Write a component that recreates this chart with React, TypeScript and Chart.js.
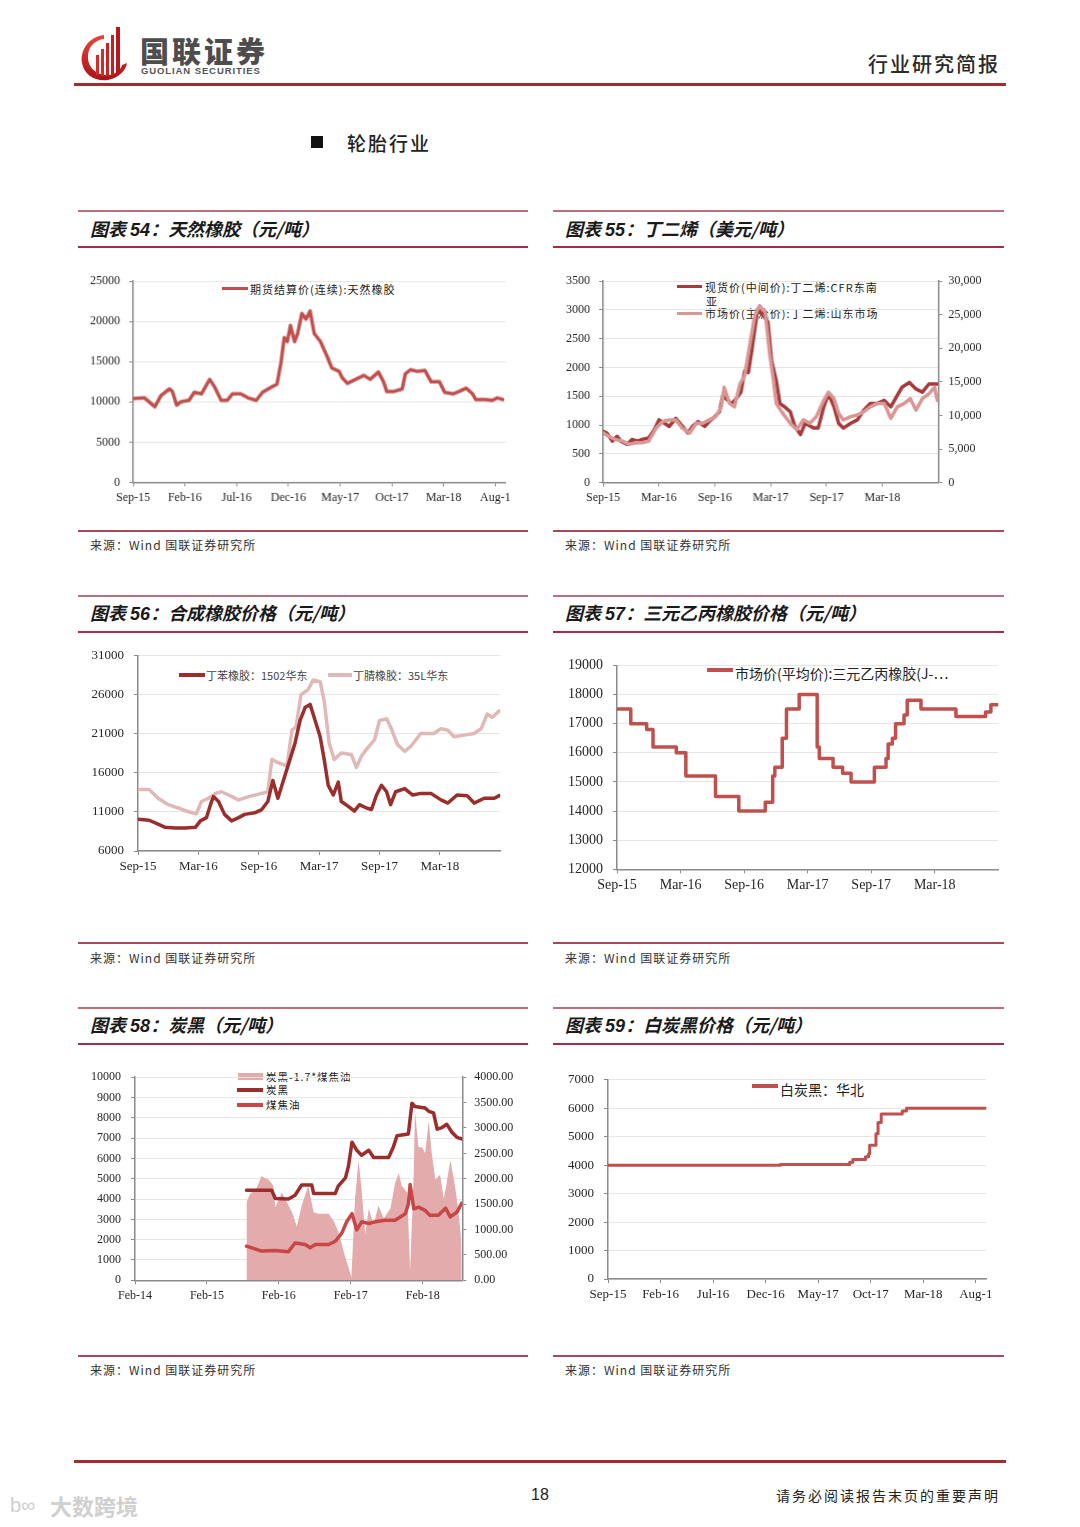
import React, { useEffect, useRef } from 'react';
import { Chart, registerables } from 'chart.js';
Chart.register(...registerables);

const SERIF = '"Liberation Serif", "Times New Roman", serif';
const CJK = '"Noto Sans CJK SC", "Noto Sans", sans-serif';
const ARIAL = '"Liberation Sans", Arial, sans-serif';

// ---------- 图表54 天然橡胶 ----------
const nrTickMonths = [0, 5, 10, 15, 20, 25, 30, 35];
const nrTickLabels = ['Sep-15', 'Feb-16', 'Jul-16', 'Dec-16', 'May-17', 'Oct-17', 'Mar-18', 'Aug-1'];
const nrMonths = [0, 1.1, 2.1, 2.7, 3.5, 3.8, 4.2, 4.6, 5.4, 5.9, 6.6, 7.4, 7.9, 8.5, 9.1, 9.6, 10.4, 11.1, 11.9, 12.5, 13.3, 13.9, 14.3, 14.6, 14.9, 15.2, 15.6, 15.9, 16.3, 16.7, 17.1, 17.5, 18.1, 18.8, 19.2, 19.9, 20.2, 20.7, 21.5, 22.3, 22.9, 23.7, 24.2, 24.5, 25.2, 26.0, 26.3, 26.8, 27.4, 28.2, 28.8, 29.6, 30.1, 30.9, 31.5, 32.2, 32.8, 33.1, 34.0, 34.7, 35.2, 35.7];
const nrValues = [10400, 10500, 9400, 10800, 11600, 11300, 9600, 10000, 10200, 11200, 11000, 12800, 11800, 10200, 10200, 11000, 11000, 10500, 10200, 11200, 11800, 12200, 15000, 18000, 17500, 19500, 17500, 18500, 21000, 20300, 21300, 18500, 17500, 15500, 14200, 13800, 13000, 12300, 12800, 13300, 12800, 13700, 12500, 11300, 11300, 11600, 13500, 14000, 13800, 13900, 12500, 12500, 11200, 11000, 11300, 11700, 11000, 10300, 10300, 10200, 10500, 10300];

// ---------- 图表55 丁二烯 ----------
const bdTickMonths = [0, 6, 12, 18, 24, 30];
const bdTickLabels = ['Sep-15', 'Mar-16', 'Sep-16', 'Mar-17', 'Sep-17', 'Mar-18'];
const bdCfrMonths = [0, 0.4, 1.0, 1.5, 1.9, 2.6, 3.1, 3.7, 4.2, 4.9, 5.5, 6.0, 6.6, 7.1, 7.8, 8.4, 9.1, 9.6, 10.2, 10.9, 11.4, 12.0, 12.5, 12.9, 13.2, 13.8, 14.3, 14.8, 15.2, 15.6, 15.9, 16.3, 16.6, 17.2, 17.7, 18.1, 18.6, 19.0, 19.5, 20.1, 20.6, 21.2, 21.7, 22.6, 23.1, 23.7, 24.2, 24.8, 25.3, 25.8, 26.6, 27.3, 28.0, 28.7, 29.4, 30.2, 30.9, 31.4, 32.1, 32.9, 33.6, 34.3, 35.0, 35.9];
const bdCfrValues = [890, 862, 720, 805, 720, 664, 749, 720, 749, 777, 919, 1089, 1032, 976, 1117, 1004, 862, 976, 1061, 976, 1061, 1146, 1231, 1543, 1458, 1373, 1458, 1571, 1940, 1911, 2223, 2677, 3018, 2904, 2791, 2110, 1770, 1373, 1316, 1231, 976, 834, 1032, 947, 947, 1316, 1543, 1316, 1032, 947, 1032, 1089, 1259, 1373, 1373, 1429, 1316, 1458, 1656, 1741, 1628, 1571, 1713, 1713];
const bdSdMonths = [0, 0.6, 1.3, 2.1, 2.8, 3.5, 4.2, 4.9, 5.7, 6.4, 7.1, 7.8, 8.5, 9.3, 10.0, 10.7, 11.4, 12.1, 12.7, 13.0, 13.6, 14.1, 14.7, 15.2, 15.7, 16.3, 16.8, 17.4, 17.9, 18.3, 18.6, 19.3, 20.1, 20.8, 21.5, 22.2, 22.9, 23.7, 24.2, 24.8, 25.3, 25.8, 26.6, 27.3, 28.0, 28.7, 29.4, 30.2, 30.9, 31.6, 32.3, 33.0, 33.6, 34.3, 35.0, 35.6, 35.9];
const bdSdValues = [7390, 6910, 6420, 6180, 5690, 5930, 5930, 6180, 8120, 9100, 9340, 9340, 8120, 7390, 8850, 8850, 9340, 9830, 11280, 14200, 11770, 11280, 14690, 15900, 20040, 24900, 26360, 25390, 19070, 15180, 11770, 10310, 8850, 7880, 9340, 8850, 9830, 12260, 13470, 12500, 10310, 9340, 9830, 10070, 10550, 11280, 11770, 11770, 9580, 11280, 11770, 12500, 10800, 12500, 13230, 14200, 12260];

// ---------- 图表56 合成橡胶 ----------
const srTickMonths = [0, 6, 12, 18, 24, 30];
const srTickLabels = ['Sep-15', 'Mar-16', 'Sep-16', 'Mar-17', 'Sep-17', 'Mar-18'];
const sbrMonths = [0, 1.1, 2.0, 2.7, 3.7, 4.7, 5.7, 6.2, 6.8, 7.2, 7.5, 8.0, 8.6, 9.3, 10.0, 10.6, 11.6, 12.3, 12.9, 13.4, 13.9, 14.4, 14.9, 15.6, 16.1, 16.6, 17.1, 17.6, 18.1, 18.5, 18.9, 19.4, 19.9, 20.2, 20.9, 21.5, 22.0, 22.7, 23.2, 23.7, 24.2, 24.7, 25.1, 25.6, 26.5, 27.3, 28.1, 29.1, 30.1, 30.8, 31.7, 32.7, 33.4, 34.4, 35.4, 35.9];
const sbrValues = [10060, 9940, 9440, 9030, 8940, 8940, 9030, 9860, 10270, 11930, 12970, 12340, 10690, 9860, 10270, 10690, 10890, 11310, 12340, 15040, 12760, 14830, 16900, 19810, 22710, 24370, 24780, 22710, 20640, 17730, 14420, 13170, 14830, 12340, 11720, 11100, 11930, 11510, 11310, 13170, 14420, 13590, 11930, 13590, 14000, 13170, 13380, 13380, 12550, 12140, 13170, 13090, 12140, 12760, 12760, 13090];
const nbrMonths = [0, 1.1, 2.0, 3.0, 4.0, 5.0, 5.8, 6.3, 7.0, 7.7, 8.3, 9.0, 10.0, 11.0, 12.3, 12.9, 13.3, 13.9, 14.8, 15.3, 15.7, 16.2, 16.9, 17.4, 18.1, 18.5, 19.0, 19.5, 20.2, 21.2, 21.7, 22.2, 22.8, 23.5, 24.0, 24.7, 25.1, 25.8, 26.5, 27.1, 28.1, 29.4, 30.1, 30.8, 31.4, 32.4, 33.4, 34.1, 34.7, 35.2, 35.9];
const nbrValues = [13880, 13880, 12760, 11930, 11510, 11020, 10770, 12340, 12760, 13380, 13590, 13170, 12550, 12970, 13380, 13590, 17730, 17320, 16900, 21470, 21880, 26030, 26650, 27890, 27690, 25200, 19810, 17730, 18560, 18360, 16700, 18150, 19180, 20220, 22710, 22920, 21880, 19600, 18770, 19390, 21050, 21050, 21670, 21470, 20640, 20840, 21050, 21670, 23540, 23120, 23950];

// ---------- 图表57 三元乙丙橡胶 ----------
const epTickMonths = [0, 6, 12, 18, 24, 30];
const epTickLabels = ['Sep-15', 'Mar-16', 'Sep-16', 'Mar-17', 'Sep-17', 'Mar-18'];
const epMonths = [0, 1.3, 2.8, 3.4, 5.6, 6.5, 9.3, 11.5, 14.0, 14.7, 14.9, 15.6, 16.0, 17.2, 18.9, 19.1, 20.4, 21.3, 22.1, 24.3, 25.4, 25.6, 26.0, 26.3, 27.1, 27.4, 28.7, 32.0, 34.8, 35.3, 36];
const epValues = [17500, 17000, 16800, 16200, 16000, 15200, 14500, 14000, 14300, 15200, 15500, 16500, 17500, 18000, 16200, 15800, 15500, 15300, 15000, 15500, 15800, 16300, 16500, 17000, 17300, 17800, 17500, 17250, 17400, 17650, 17650];

// ---------- 图表58 炭黑 ----------
const cbTickMonths = [0, 12, 24, 36, 48];
const cbTickLabels = ['Feb-14', 'Feb-15', 'Feb-16', 'Feb-17', 'Feb-18'];
const cbMonths = [18.6, 22.8, 23.4, 25.6, 26.7, 27.8, 29.5, 29.8, 33.4, 33.9, 35.1, 35.6, 36.2, 37.0, 37.8, 39.0, 39.8, 42.3, 43.1, 43.7, 45.6, 46.2, 46.7, 48.4, 49.0, 49.8, 50.4, 51.2, 52.0, 52.9, 53.7, 54.5];
const cbValues = [4430, 4430, 4030, 4000, 4190, 4690, 4690, 4270, 4270, 4640, 5040, 5600, 6800, 6400, 6160, 6400, 6050, 6050, 6560, 7120, 7200, 8720, 8560, 8480, 8320, 8240, 7440, 7520, 7680, 7280, 7040, 6960];
const ctMonths = [18.6, 19.5, 21.1, 23.4, 25.6, 26.7, 28.4, 29.2, 30.1, 32.3, 33.4, 34.5, 35.3, 36.2, 37.0, 37.8, 39.0, 40.1, 41.7, 43.4, 45.1, 45.6, 45.9, 46.5, 47.3, 48.4, 49.2, 50.6, 51.8, 52.6, 53.7, 54.5];
const ctValues = [1680, 1600, 1440, 1470, 1410, 1840, 1760, 1600, 1760, 1760, 1920, 2320, 2880, 3280, 2480, 2880, 2800, 2880, 2960, 2960, 3280, 3760, 4720, 3520, 3600, 3440, 3200, 3200, 3550, 3120, 3360, 3790];
const sprMonths = [18.6, 19.2, 20.3, 21.1, 22.3, 23.1, 23.4, 24.5, 26.2, 27.0, 27.8, 28.9, 29.8, 30.6, 32.3, 33.1, 33.9, 35.1, 35.6, 36.1, 36.7, 37.3, 37.8, 38.4, 39.0, 39.8, 40.6, 41.5, 42.6, 43.4, 44.0, 44.5, 45.4, 45.9, 46.5, 46.7, 47.3, 47.9, 48.4, 49.0, 49.5, 50.1, 50.9, 51.5, 52.0, 52.6, 53.2, 53.7, 54.3, 54.5];
const sprValues = [1540, 1700, 1820, 2050, 1980, 1860, 1440, 1730, 1340, 1060, 1470, 1860, 1340, 1310, 1310, 1180, 960, 450, 260, 60, 1600, 2370, 1790, 900, 1410, 1090, 1470, 1220, 1410, 1920, 2110, 1860, 1730, 190, 2110, 3330, 2620, 2620, 2500, 3140, 2500, 1980, 2080, 1600, 1920, 2370, 1980, 1600, 960, 450];

// ---------- 图表59 白炭黑 ----------
const wcTickMonths = [0, 5, 10, 15, 20, 25, 30, 35];
const wcTickLabels = ['Sep-15', 'Feb-16', 'Jul-16', 'Dec-16', 'May-17', 'Oct-17', 'Mar-18', 'Aug-1'];
const wcMonths = [0, 16.4, 23.0, 23.3, 24.5, 24.8, 24.9, 25.5, 25.7, 26.0, 28.0, 28.4, 36];
const wcValues = [4000, 4020, 4100, 4200, 4300, 4400, 4700, 5100, 5500, 5800, 5900, 6000, 6000];

// ---------- helpers ----------
const PAD_T = 12, PAD_R = 24, Y_W = 60, X_H = 32;
const AXIS = '#8a8a8a';
const TICK_TXT = '#262626';

function xAxis(max: number, tv: number[], tl: string[], fs: number) {
  return {
    type: 'linear', position: 'bottom', min: 0, max,
    afterBuildTicks: (s: any) => { s.ticks = tv.map((v) => ({ value: v })); },
    afterFit: (s: any) => { s.height = X_H; },
    ticks: { autoSkip: false, maxRotation: 0, padding: 4, color: TICK_TXT, font: { family: SERIF, size: fs }, callback: (_v: any, i: number) => tl[i] },
    grid: { drawOnChartArea: false, tickLength: 4, color: AXIS, lineWidth: 1 },
    border: { color: AXIS, width: 1.5 },
  };
}

function yAxis(min: number, max: number, step: number, fs: number, o: { right?: boolean; fmt?: (v: number) => string; width: number; pad?: number }) {
  return {
    type: 'linear', position: o.right ? 'right' : 'left', min, max,
    afterFit: (s: any) => { s.width = o.width; },
    ticks: { stepSize: step, padding: o.pad ?? 9, color: TICK_TXT, font: { family: SERIF, size: fs }, callback: o.fmt || ((v: number) => String(v)) },
    grid: { drawOnChartArea: !o.right, color: '#e6e6e6', lineWidth: 1, tickColor: AXIS, tickLength: 4 },
    border: { color: AXIS, width: 1.5 },
  };
}

function lineDs(months: number[], values: number[], color: string, width: number, axis = 'y', extra: any = {}) {
  return {
    type: 'line',
    data: months.map((m, i) => ({ x: m, y: values[i] })),
    borderColor: color, backgroundColor: color, borderWidth: width,
    pointRadius: 0, tension: 0, yAxisID: axis, borderJoinStyle: 'round', borderCapStyle: 'round',
    ...extra,
  };
}

type Box = { L: number; T: number; R: number; B: number; y2W?: number };

function ChartBox({ box, build }: { box: Box; build: () => any }) {
  const ref = useRef<HTMLCanvasElement>(null);
  const y2W = box.y2W || 0;
  const left = box.L - Y_W;
  const top = box.T - PAD_T;
  const width = box.R - box.L + Y_W + y2W + PAD_R;
  const height = box.B - box.T + PAD_T + X_H;
  useEffect(() => {
    const cfg = build();
    cfg.options = {
      ...cfg.options,
      responsive: true, maintainAspectRatio: false, animation: false,
      layout: { padding: { top: PAD_T, right: PAD_R, left: 0, bottom: 0 } },
      plugins: { legend: { display: false }, tooltip: { enabled: false } },
    };
    const c = new Chart(ref.current as HTMLCanvasElement, cfg);
    return () => c.destroy();
  }, []);
  return (
    <div style={{ position: 'absolute', left, top, width, height }}>
      <canvas ref={ref} />
    </div>
  );
}

function Txt({ x, y, s, c = '#222', f = CJK, w = 400, ls = 0, it = false, center = false, children }: any) {
  return (
    <div style={{
      position: 'absolute', left: x, top: y, transform: center ? 'translate(-50%,-50%)' : 'translateY(-50%)',
      fontSize: s, color: c, fontFamily: f, fontWeight: w, letterSpacing: ls, fontStyle: it ? 'italic' : 'normal',
      whiteSpace: 'nowrap', lineHeight: 1,
    }}>{children}</div>
  );
}

function Rule({ x1, x2, y, h = 2, c }: any) {
  return <div style={{ position: 'absolute', left: x1, top: y - h / 2, width: x2 - x1, height: h, background: c }} />;
}

function LegLine({ x1, x2, y, h = 4, c }: any) {
  return <div style={{ position: 'absolute', left: x1, top: y - h / 2, width: x2 - x1, height: h, background: c }} />;
}

function Section({ x1, x2, topY, titleY, lineY, srcLineY, srcY, num, title }: any) {
  return (
    <>
      <Rule x1={x1} x2={x2} y={topY} h={2} c="#b8707f" />
      <Txt x={x1 + 12} y={titleY} s={18} w={700} it c="#1a1a1a">
        图表 <span style={{ fontFamily: ARIAL }}>{num}</span>：{title}
      </Txt>
      <Rule x1={x1} x2={x2} y={lineY} h={2.5} c="#9e2f46" />
      <Rule x1={x1} x2={x2} y={srcLineY} h={2} c="#a8485c" />
      <Txt x={x1 + 12} y={srcY} s={12} ls={1} c="#333">来源：Wind 国联证券研究所</Txt>
    </>
  );
}

// ---------- chart builders ----------
const box54: Box = { L: 133.3, T: 277.3, R: 505, B: 481.7 };
const build54 = () => ({
  type: 'line',
  data: { datasets: [lineDs(nrMonths, nrValues, '#c0504d', 3.5)] },
  options: { scales: { x: xAxis(36, nrTickMonths, nrTickLabels, 12), y: yAxis(0, 25000, 5000, 12, { width: Y_W }) } },
});

const box55: Box = { L: 603.3, T: 276.7, R: 937.7, B: 482.3, y2W: 60 };
const build55 = () => ({
  type: 'line',
  data: {
    datasets: [
      lineDs(bdSdMonths, bdSdValues, '#d99694', 3.5, 'y2'),
      lineDs(bdCfrMonths, bdCfrValues, '#a53b3b', 3.5, 'y'),
    ],
  },
  options: {
    scales: {
      x: xAxis(36, bdTickMonths, bdTickLabels, 12),
      y: yAxis(0, 3500, 500, 12, { width: Y_W }),
      y2: yAxis(0, 30000, 5000, 12, { right: true, width: 60, pad: 6, fmt: (v: number) => v.toLocaleString('en-US') }),
    },
  },
});

const box56: Box = { L: 137.7, T: 650, R: 500, B: 851 };
const build56 = () => ({
  type: 'line',
  data: {
    datasets: [
      lineDs(sbrMonths, sbrValues, '#9b2d2d', 3.5),
      lineDs(nbrMonths, nbrValues, '#e0b8b8', 3.5),
    ],
  },
  options: { scales: { x: xAxis(36, srTickMonths, srTickLabels, 13), y: yAxis(6000, 31000, 5000, 13, { width: Y_W, pad: 10 }) } },
});

const box57: Box = { L: 616.7, T: 659, R: 998, B: 869.3 };
const build57 = () => ({
  type: 'line',
  data: { datasets: [lineDs(epMonths, epValues, '#c0504d', 3.5, 'y', { stepped: true })] },
  options: { scales: { x: xAxis(36, epTickMonths, epTickLabels, 14), y: yAxis(12000, 19000, 1000, 14, { width: Y_W, pad: 10 }) } },
});

const box58: Box = { L: 135, T: 1071.7, R: 462.3, B: 1280, y2W: 60 };
const build58 = () => ({
  type: 'line',
  data: {
    datasets: [
      lineDs(cbMonths, cbValues, '#9b2d2d', 3.5, 'y'),
      lineDs(ctMonths, ctValues, '#c84646', 3.5, 'y'),
      lineDs(sprMonths, sprValues, 'rgba(0,0,0,0)', 0, 'y2', { fill: 'origin', backgroundColor: '#e3abab' }),
    ],
  },
  options: {
    scales: {
      x: xAxis(54.6, cbTickMonths, cbTickLabels, 12),
      y: yAxis(0, 10000, 1000, 12, { width: Y_W, pad: 10 }),
      y2: yAxis(0, 4000, 500, 12, { right: true, width: 60, pad: 8, fmt: (v: number) => v.toFixed(2) }),
    },
  },
});

const box59: Box = { L: 607.7, T: 1074, R: 986, B: 1279 };
const build59 = () => ({
  type: 'line',
  data: { datasets: [lineDs(wcMonths, wcValues, '#c0504d', 3, 'y', { stepped: true })] },
  options: { scales: { x: xAxis(36, wcTickMonths, wcTickLabels, 13), y: yAxis(0, 7000, 1000, 13, { width: Y_W, pad: 10 }) } },
});

function Logo() {
  return (
    <svg width={56} height={58} style={{ position: 'absolute', left: 76, top: 25 }} viewBox="0 0 56 58">
      <defs>
        <linearGradient id="lg1" x1="0" y1="0" x2="0" y2="1">
          <stop offset="0" stopColor="#e8453a" />
          <stop offset="1" stopColor="#a8141b" />
        </linearGradient>
      </defs>
      <path d="M28 10 C12 12 4 26 6 38 C8 50 20 57 32 55 C42 53 50 46 51 38 L46 40 C44 47 36 51 29 50 C18 49 11 40 12 30 C13 21 19 15 28 14 Z" fill="url(#lg1)" />
      <rect x="20" y="30" width="3" height="20" fill="#d62a2a" />
      <rect x="25" y="24" width="3" height="27" fill="#d62a2a" />
      <rect x="30" y="18" width="3" height="33" fill="#cc2222" />
      <rect x="35" y="10" width="3" height="40" fill="#c81e1e" />
      <path d="M40 2 L44 2 L44 48 L40 50 Z" fill="#b8181c" />
    </svg>
  );
}

export default function App() {
  return (
    <div style={{ position: 'absolute', left: 0, top: 0, width: 1080, height: 1527, background: '#ffffff', overflow: 'hidden' }}>
      {/* header */}
      <Logo />
      <Txt x={140} y={50} s={29} w={900} ls={3} c="#4d4d4d">国联证券</Txt>
      <Txt x={141} y={71} s={9.5} w={700} ls={0.9} c="#555" f={ARIAL}>GUOLIAN SECURITIES</Txt>
      <Txt x={868} y={64} s={20} w={500} ls={2} c="#2a2a2a">行业研究简报</Txt>
      <Rule x1={74} x2={1006} y={84} h={3} c="#a32a2e" />
      <div style={{ position: 'absolute', left: 311, top: 136, width: 12, height: 12, background: '#111' }} />
      <Txt x={347} y={142} s={19} w={500} ls={2} c="#222">轮胎行业</Txt>

      {/* sections */}
      <Section x1={78} x2={528} topY={211} titleY={229} lineY={247} srcLineY={531} srcY={545} num="54" title="天然橡胶（元/吨）" />
      <Section x1={553} x2={1004} topY={211} titleY={229} lineY={247} srcLineY={531} srcY={545} num="55" title="丁二烯（美元/吨）" />
      <Section x1={78} x2={528} topY={596} titleY={613} lineY={632} srcLineY={943} srcY={958} num="56" title="合成橡胶价格（元/吨）" />
      <Section x1={553} x2={1004} topY={596} titleY={613} lineY={632} srcLineY={943} srcY={958} num="57" title="三元乙丙橡胶价格（元/吨）" />
      <Section x1={78} x2={528} topY={1008} titleY={1025} lineY={1044} srcLineY={1356} srcY={1370} num="58" title="炭黑（元/吨）" />
      <Section x1={553} x2={1004} topY={1008} titleY={1025} lineY={1044} srcLineY={1356} srcY={1370} num="59" title="白炭黑价格（元/吨）" />

      {/* legends (under the canvases) */}
      <LegLine x1={222} x2={248} y={288.3} h={3.5} c="#c0504d" />
      <Txt x={250} y={289} s={11} ls={1} c="#222">期货结算价(连续):天然橡胶</Txt>

      <LegLine x1={677} x2={702} y={286.7} h={3.5} c="#a53b3b" />
      <Txt x={705} y={287} s={11} ls={1} c="#222">现货价(中间价):丁二烯:CFR东南</Txt>
      <Txt x={706} y={301} s={11} c="#222">亚</Txt>
      <LegLine x1={677} x2={702} y={313.3} h={3.5} c="#d99694" />
      <Txt x={705} y={313} s={11} ls={1} c="#222">市场价(主流价):丁二烯:山东市场</Txt>

      <LegLine x1={179} x2={205} y={675} h={3.5} c="#9b2d2d" />
      <Txt x={206} y={675} s={11} c="#444">丁苯橡胶：1502华东</Txt>
      <LegLine x1={328} x2={352} y={675} h={3.5} c="#e0b8b8" />
      <Txt x={353} y={675} s={11} c="#444">丁腈橡胶：35L华东</Txt>

      <LegLine x1={707} x2={733} y={670} h={4} c="#c0504d" />
      <Txt x={735} y={673} s={14} c="#222">市场价(平均价):三元乙丙橡胶(J-…</Txt>

      <div style={{ position: 'absolute', left: 238, top: 1073, width: 25, height: 7, background: '#e3abab' }} />
      <Txt x={266} y={1076.5} s={10.5} ls={1} c="#222">炭黑-1.7*煤焦油</Txt>
      <LegLine x1={237} x2={263} y={1090} h={3.5} c="#9b2d2d" />
      <Txt x={266} y={1090} s={10.5} ls={1} c="#222">炭黑</Txt>
      <LegLine x1={237} x2={263} y={1105} h={3.5} c="#c84646" />
      <Txt x={266} y={1105} s={10.5} ls={1} c="#222">煤焦油</Txt>

      <LegLine x1={752} x2={778} y={1086} h={4} c="#c0504d" />
      <Txt x={780} y={1089} s={14} c="#222">白炭黑：华北</Txt>

      {/* charts */}
      <ChartBox box={box54} build={build54} />
      <ChartBox box={box55} build={build55} />
      <ChartBox box={box56} build={build56} />
      <ChartBox box={box57} build={build57} />
      <ChartBox box={box58} build={build58} />
      <ChartBox box={box59} build={build59} />

      {/* footer */}
      <Rule x1={74} x2={1006} y={1461} h={3} c="#a32a2e" />
      <Txt x={540} y={1495} s={16} f={ARIAL} c="#222" center>18</Txt>
      <Txt x={776} y={1495} s={14} ls={2} c="#222">请务必阅读报告末页的重要声明</Txt>
      <Txt x={10} y={1505} s={20} c="#d0d0d0" f={ARIAL}>b∞</Txt>
      <Txt x={50} y={1505} s={22} w={700} c="#d0d0d0">大数跨境</Txt>
    </div>
  );
}
